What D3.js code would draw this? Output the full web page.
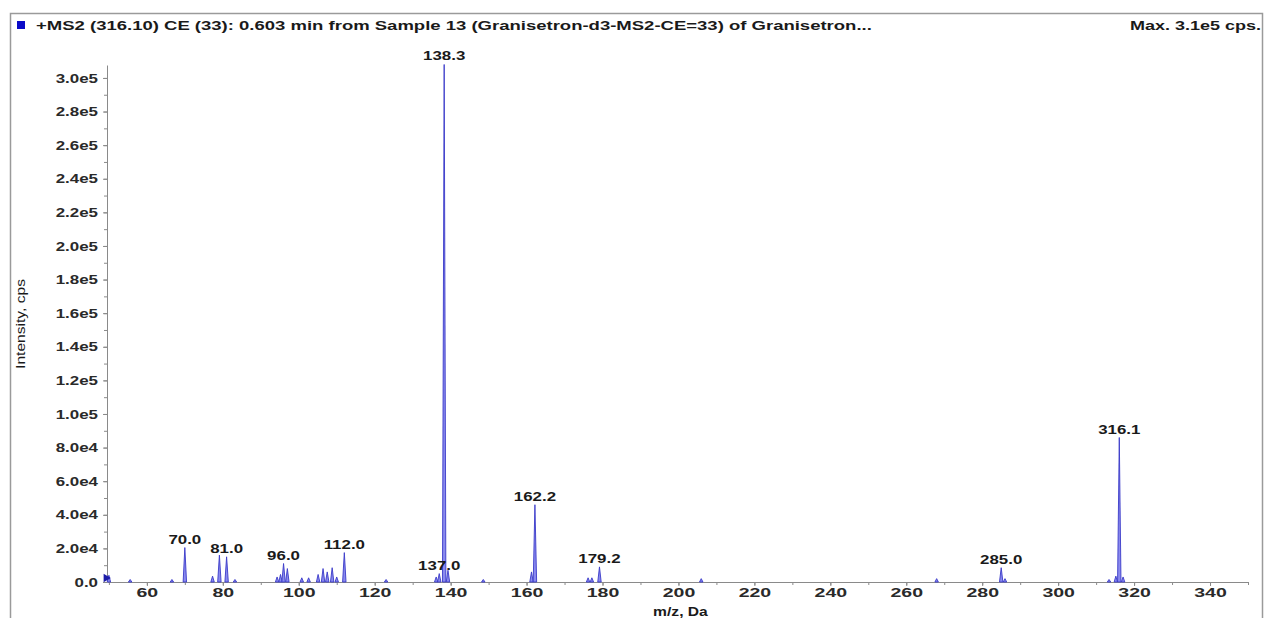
<!DOCTYPE html>
<html>
<head>
<meta charset="utf-8">
<script src="https://cdn.jsdelivr.net/npm/d3@7"></script>
<style>
  body { margin: 0; background: #fff; }
  text { font-family: "Liberation Sans", Arial, sans-serif; }
  .axis path, .axis line { stroke: #8a8a8a; }
  .axis text { font-size: 13px; font-weight: bold; fill: #2a2a2a; }
</style>
</head>
<body>
<script>
// spectrum peaks: m/z and intensity (cps)
var peakMz = [50.0, 55.6, 66.6, 70.0, 77.3, 79.1, 81.0, 83.2, 94.3, 95.2, 96.0, 97.0, 100.8, 102.6,
  105.1, 106.4, 107.5, 108.8, 110.0, 112.0, 123.0, 136.2, 137.0, 138.3, 139.3, 148.6,
  161.3, 162.2, 176.2, 177.2, 179.2, 206.0, 268.0, 285.0, 286.0, 313.4, 315.2, 316.1, 317.1];
var peakInt = [4000, 1500, 1500, 20500, 3500, 16000, 15000, 1500, 3000, 4500, 11000, 8000, 2500, 2500,
  4500, 8000, 6000, 8500, 3000, 17500, 1500, 3000, 5000, 308000, 7000, 1500,
  6000, 46000, 2500, 2500, 9000, 2000, 2000, 8500, 2000, 1500, 3500, 86000, 3000];

// annotated peaks
var labelMz = [70.0, 81.0, 96.0, 112.0, 137.0, 138.3, 162.2, 179.2, 285.0, 316.1];

var xTicks = [60, 80, 100, 120, 140, 160, 180, 200, 220, 240, 260, 280, 300, 320, 340];
var yTicks = [0, 2e4, 4e4, 6e4, 8e4, 1e5, 1.2e5, 1.4e5, 1.6e5, 1.8e5, 2e5, 2.2e5, 2.4e5, 2.6e5, 2.8e5, 3e5];

var titleText = "+MS2 (316.10) CE (33): 0.603 min from Sample 13 (Granisetron-d3-MS2-CE=33) of Granisetron...";
var maxText = "Max. 3.1e5 cps.";

var W = 1268, H = 618;
var plot = { left: 107, right: 1248, top: 65, bottom: 582 };
var halfWidth = 0.45; // peak half width in Da

// widen text horizontally like the exported picture
function stretch(sel, f) {
  sel.each(function () {
    var w = this.getComputedTextLength();
    d3.select(this).attr("textLength", w * f).attr("lengthAdjust", "spacingAndGlyphs");
  });
}

var svg = d3.select("body").append("svg").attr("width", W).attr("height", H);

// outer frame
svg.append("path")
  .attr("d", "M10.5," + H + "V13.5H1262.5V" + H)
  .attr("fill", "none").attr("stroke", "#9a9a9a").attr("stroke-width", 1.5);

// legend square + title
svg.append("rect").attr("x", 17).attr("y", 21).attr("width", 8).attr("height", 8).attr("fill", "#0a0ac8");
svg.append("text").attr("x", 36).attr("y", 30)
  .style("font-size", "12.5px").style("font-weight", "bold").attr("fill", "#1a1a1a")
  .text(titleText).call(stretch, 1.48);
svg.append("text").attr("x", 1261).attr("y", 30).attr("text-anchor", "end")
  .style("font-size", "12.5px").style("font-weight", "bold").attr("fill", "#1a1a1a")
  .text(maxText).call(stretch, 1.44);

var x = d3.scaleLinear().domain([49.5, 350]).range([plot.left, plot.right]);
var y = d3.scaleLinear().domain([0, 3.077e5]).range([plot.bottom, plot.top]);

// minor ticks
svg.append("g").attr("class", "axis")
  .attr("transform", "translate(0," + plot.bottom + ")")
  .call(d3.axisBottom(x).tickValues(d3.range(50, 351, 10)).tickSize(3).tickFormat(""))
  .call(function (g) { g.select(".domain").remove(); });
svg.append("g").attr("class", "axis")
  .attr("transform", "translate(" + plot.left + ",0)")
  .call(d3.axisLeft(y).tickValues(d3.range(0, 3.05e5, 1e4)).tickSize(3).tickFormat(""))
  .call(function (g) { g.select(".domain").remove(); });

var fmtY = function (d) {
  if (d === 0) return "0.0";
  return d3.format(".1e")(d).replace("e+", "e");
};

svg.append("g").attr("class", "axis")
  .attr("transform", "translate(0," + plot.bottom + ")")
  .call(d3.axisBottom(x).tickValues(xTicks).tickSize(4).tickSizeOuter(0).tickPadding(2))
  .call(function (g) { g.selectAll("text").call(stretch, 1.5); });

svg.append("g").attr("class", "axis")
  .attr("transform", "translate(" + plot.left + ",0)")
  .call(d3.axisLeft(y).tickValues(yTicks).tickSize(4).tickSizeOuter(0).tickFormat(fmtY).tickPadding(5))
  .call(function (g) { g.selectAll("text").call(stretch, 1.3); });

// axis titles
svg.append("text").attr("x", x(200) + 2).attr("y", 616)
  .attr("text-anchor", "middle").style("font-size", "12.5px").style("font-weight", "bold")
  .attr("fill", "#1a1a1a").text("m/z, Da").call(stretch, 1.25);
svg.append("text").attr("transform", "translate(25," + 324 + ") rotate(-90)")
  .attr("text-anchor", "middle").style("font-size", "12px").attr("fill", "#1a1a1a")
  .text("Intensity, cps").call(stretch, 1.3);

// peaks as narrow profiles
var peaks = peakMz.map(function (m, i) { return { mz: m, v: peakInt[i] }; });
var peakPath = function (d) {
  return "M" + x(d.mz - halfWidth) + "," + y(0) +
    "L" + x(d.mz) + "," + y(d.v) +
    "L" + x(d.mz + halfWidth) + "," + y(0) + "Z";
};
svg.append("g").selectAll("path").data(peaks).enter().append("path")
  .attr("d", peakPath)
  .attr("fill", "#8a8aee")
  .attr("stroke", "#3a3ac8")
  .attr("stroke-width", 0.9)
  .attr("stroke-linejoin", "miter");

// start marker
svg.append("path")
  .attr("d", d3.symbol().type(d3.symbolTriangle).size(30))
  .attr("transform", "translate(" + (x(49.5) - 1) + "," + (y(0) - 4) + ") rotate(90)")
  .attr("fill", "#1c1ca8");

// peak labels
svg.append("g").selectAll("text").data(labelMz).enter().append("text")
  .attr("x", function (m) { return x(m); })
  .attr("y", function (m) {
    var p = peaks.find(function (d) { return d.mz === m; });
    return y(p.v) - 4;
  })
  .attr("text-anchor", "middle")
  .style("font-size", "13.5px").style("font-weight", "bold").attr("fill", "#1a1a1a")
  .text(function (m) { return m.toFixed(1); })
  .call(stretch, 1.25);
</script>
</body>
</html>
